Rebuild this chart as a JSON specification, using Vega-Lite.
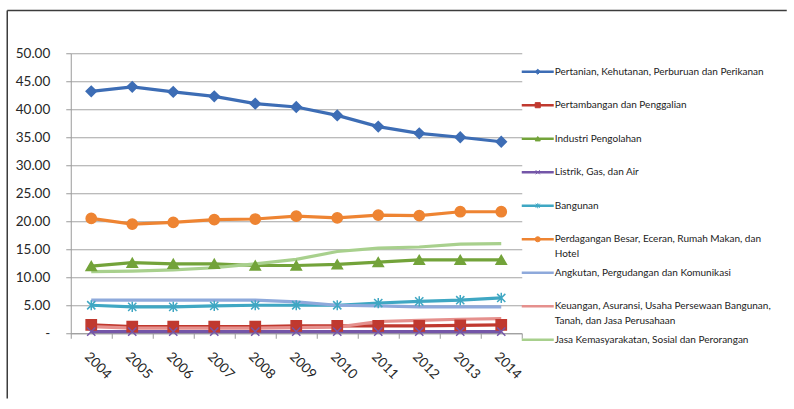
{
  "$schema": "https://vega.github.io/schema/vega-lite/v6.json",
  "background": "white",
  "padding": {"left": 5.75, "top": 9.25, "right": 0, "bottom": 0},
  "config": {
    "view": {"stroke": null},
    "font": "Lato",
    "axis": {
      "labelFont": "Lato",
      "labelFontSize": 13.5,
      "labelColor": "#262626",
      "domainColor": "#9a9a9a",
      "tickColor": "#9a9a9a",
      "title": null
    }
  },
  "datasets": {
    "pdrb": [
      {"year": 2004, "series": "Pertanian", "value": 43.2},
      {"year": 2005, "series": "Pertanian", "value": 44.0},
      {"year": 2006, "series": "Pertanian", "value": 43.1},
      {"year": 2007, "series": "Pertanian", "value": 42.3},
      {"year": 2008, "series": "Pertanian", "value": 41.0},
      {"year": 2009, "series": "Pertanian", "value": 40.4},
      {"year": 2010, "series": "Pertanian", "value": 38.9},
      {"year": 2011, "series": "Pertanian", "value": 36.9},
      {"year": 2012, "series": "Pertanian", "value": 35.7},
      {"year": 2013, "series": "Pertanian", "value": 35.0},
      {"year": 2014, "series": "Pertanian", "value": 34.2},
      {"year": 2004, "series": "Pertambangan", "value": 1.5},
      {"year": 2005, "series": "Pertambangan", "value": 1.2},
      {"year": 2006, "series": "Pertambangan", "value": 1.2},
      {"year": 2007, "series": "Pertambangan", "value": 1.2},
      {"year": 2008, "series": "Pertambangan", "value": 1.2},
      {"year": 2009, "series": "Pertambangan", "value": 1.3},
      {"year": 2010, "series": "Pertambangan", "value": 1.3},
      {"year": 2011, "series": "Pertambangan", "value": 1.3},
      {"year": 2012, "series": "Pertambangan", "value": 1.3},
      {"year": 2013, "series": "Pertambangan", "value": 1.4},
      {"year": 2014, "series": "Pertambangan", "value": 1.5},
      {"year": 2004, "series": "Industri", "value": 12.0},
      {"year": 2005, "series": "Industri", "value": 12.6},
      {"year": 2006, "series": "Industri", "value": 12.4},
      {"year": 2007, "series": "Industri", "value": 12.4},
      {"year": 2008, "series": "Industri", "value": 12.1},
      {"year": 2009, "series": "Industri", "value": 12.1},
      {"year": 2010, "series": "Industri", "value": 12.3},
      {"year": 2011, "series": "Industri", "value": 12.7},
      {"year": 2012, "series": "Industri", "value": 13.1},
      {"year": 2013, "series": "Industri", "value": 13.1},
      {"year": 2014, "series": "Industri", "value": 13.1},
      {"year": 2004, "series": "Listrik", "value": 0.3},
      {"year": 2005, "series": "Listrik", "value": 0.3},
      {"year": 2006, "series": "Listrik", "value": 0.3},
      {"year": 2007, "series": "Listrik", "value": 0.3},
      {"year": 2008, "series": "Listrik", "value": 0.3},
      {"year": 2009, "series": "Listrik", "value": 0.3},
      {"year": 2010, "series": "Listrik", "value": 0.3},
      {"year": 2011, "series": "Listrik", "value": 0.3},
      {"year": 2012, "series": "Listrik", "value": 0.3},
      {"year": 2013, "series": "Listrik", "value": 0.3},
      {"year": 2014, "series": "Listrik", "value": 0.3},
      {"year": 2004, "series": "Bangunan", "value": 5.0},
      {"year": 2005, "series": "Bangunan", "value": 4.7},
      {"year": 2006, "series": "Bangunan", "value": 4.7},
      {"year": 2007, "series": "Bangunan", "value": 4.9},
      {"year": 2008, "series": "Bangunan", "value": 5.0},
      {"year": 2009, "series": "Bangunan", "value": 5.0},
      {"year": 2010, "series": "Bangunan", "value": 5.0},
      {"year": 2011, "series": "Bangunan", "value": 5.4},
      {"year": 2012, "series": "Bangunan", "value": 5.7},
      {"year": 2013, "series": "Bangunan", "value": 5.9},
      {"year": 2014, "series": "Bangunan", "value": 6.3},
      {"year": 2004, "series": "Perdagangan", "value": 20.5},
      {"year": 2005, "series": "Perdagangan", "value": 19.5},
      {"year": 2006, "series": "Perdagangan", "value": 19.8},
      {"year": 2007, "series": "Perdagangan", "value": 20.3},
      {"year": 2008, "series": "Perdagangan", "value": 20.4},
      {"year": 2009, "series": "Perdagangan", "value": 20.9},
      {"year": 2010, "series": "Perdagangan", "value": 20.6},
      {"year": 2011, "series": "Perdagangan", "value": 21.1},
      {"year": 2012, "series": "Perdagangan", "value": 21.0},
      {"year": 2013, "series": "Perdagangan", "value": 21.7},
      {"year": 2014, "series": "Perdagangan", "value": 21.7},
      {"year": 2004, "series": "Angkutan", "value": 5.9},
      {"year": 2005, "series": "Angkutan", "value": 5.9},
      {"year": 2006, "series": "Angkutan", "value": 5.9},
      {"year": 2007, "series": "Angkutan", "value": 5.9},
      {"year": 2008, "series": "Angkutan", "value": 5.9},
      {"year": 2009, "series": "Angkutan", "value": 5.6},
      {"year": 2010, "series": "Angkutan", "value": 5.0},
      {"year": 2011, "series": "Angkutan", "value": 4.9},
      {"year": 2012, "series": "Angkutan", "value": 4.7},
      {"year": 2013, "series": "Angkutan", "value": 4.7},
      {"year": 2014, "series": "Angkutan", "value": 4.7},
      {"year": 2004, "series": "Keuangan", "value": 1.2},
      {"year": 2005, "series": "Keuangan", "value": 0.9},
      {"year": 2006, "series": "Keuangan", "value": 0.9},
      {"year": 2007, "series": "Keuangan", "value": 0.9},
      {"year": 2008, "series": "Keuangan", "value": 0.9},
      {"year": 2009, "series": "Keuangan", "value": 1.0},
      {"year": 2010, "series": "Keuangan", "value": 1.1},
      {"year": 2011, "series": "Keuangan", "value": 2.1},
      {"year": 2012, "series": "Keuangan", "value": 2.3},
      {"year": 2013, "series": "Keuangan", "value": 2.5},
      {"year": 2014, "series": "Keuangan", "value": 2.6},
      {"year": 2004, "series": "Jasa", "value": 11.0},
      {"year": 2005, "series": "Jasa", "value": 11.1},
      {"year": 2006, "series": "Jasa", "value": 11.3},
      {"year": 2007, "series": "Jasa", "value": 11.7},
      {"year": 2008, "series": "Jasa", "value": 12.4},
      {"year": 2009, "series": "Jasa", "value": 13.2},
      {"year": 2010, "series": "Jasa", "value": 14.6},
      {"year": 2011, "series": "Jasa", "value": 15.2},
      {"year": 2012, "series": "Jasa", "value": 15.4},
      {"year": 2013, "series": "Jasa", "value": 15.9},
      {"year": 2014, "series": "Jasa", "value": 16.0}
    ],
    "sektor": [
      {"series": "Pertanian", "label": "Pertanian, Kehutanan, Perburuan dan Perikanan"},
      {"series": "Pertambangan", "label": "Pertambangan dan Penggalian"},
      {"series": "Industri", "label": "Industri Pengolahan"},
      {"series": "Listrik", "label": "Listrik, Gas, dan Air"},
      {"series": "Bangunan", "label": "Bangunan"},
      {"series": "Perdagangan", "label": "Perdagangan Besar, Eceran, Rumah Makan, dan\nHotel"},
      {"series": "Angkutan", "label": "Angkutan, Pergudangan dan Komunikasi"},
      {"series": "Keuangan", "label": "Keuangan, Asuransi, Usaha Persewaan Bangunan,\nTanah, dan Jasa Perusahaan"},
      {"series": "Jasa", "label": "Jasa Kemasyarakatan, Sosial dan Perorangan"}
    ]
  },
  "spacing": 0,
  "bounds": "flush",
  "hconcat": [
    {
      "width": 451,
      "height": 280,
      "resolve": {"scale": {"x": "independent", "y": "independent"}},
      "layer": [
        {
          "data": {"values": [{}]},
          "layer": [
            {
              "mark": {"type": "rule", "stroke": "#3c3c3c", "strokeWidth": 1.5, "clip": false},
              "encoding": {
                "x": {"datum": -0.1408, "type": "quantitative", "scale": {"domain": [0, 1]}, "axis": null},
                "x2": {"datum": 1.5876},
                "y": {"datum": 1.1525, "type": "quantitative", "scale": {"domain": [0, 1]}, "axis": null}
              }
            },
            {
              "mark": {"type": "rule", "stroke": "#3c3c3c", "strokeWidth": 1.5, "clip": false},
              "encoding": {
                "x": {"datum": -0.1408, "type": "quantitative", "axis": null},
                "y": {"datum": 1.1525, "type": "quantitative", "axis": null},
                "y2": {"datum": -0.2332}
              }
            }
          ]
        },
        {
          "data": {"name": "pdrb"},
          "encoding": {
            "x": {
              "field": "year",
              "type": "ordinal",
              "scale": {"type": "band", "paddingInner": 0, "paddingOuter": 0},
              "axis": {
                "labelAngle": 45,
                "tickBand": "extent",
                "tickSize": 5,
                "labelPadding": 11,
                "grid": false,
                "title": null
              }
            },
            "y": {
              "field": "value",
              "type": "quantitative",
              "scale": {"domain": [0, 50], "nice": false},
              "axis": {
                "values": [0, 5, 10, 15, 20, 25, 30, 35, 40, 45, 50],
                "grid": true,
                "gridColor": "#a4a4a4",
                "gridWidth": 1.2,
                "tickSize": 5,
                "labelPadding": 16,
                "labelExpr": "datum.value == 0 ? '-\u00a0\u00a0\u00a0' : format(datum.value, '.2f')",
                "title": null
              }
            }
          },
          "layer": [
            {
              "mark": {"type": "line", "strokeWidth": 3.2},
              "encoding": {
                "color": {
                  "field": "series",
                  "type": "nominal",
                  "scale": {
                    "domain": ["Pertanian", "Pertambangan", "Industri", "Listrik", "Bangunan", "Perdagangan", "Angkutan", "Keuangan", "Jasa"],
                    "range": ["#3d6db5", "#c0392f", "#73a33a", "#7456a8", "#3fa7c3", "#ee8432", "#8ea9db", "#e5908d", "#a8d08d"]
                  },
                  "legend": null
                }
              }
            },
            {
              "mark": {"type": "point", "filled": true, "size": 105, "strokeWidth": 1.5, "opacity": 1},
              "encoding": {
                "color": {"field": "series", "type": "nominal", "legend": null},
                "stroke": {
                  "field": "series",
                  "type": "nominal",
                  "scale": {
                    "domain": ["Pertanian", "Pertambangan", "Industri", "Listrik", "Bangunan", "Perdagangan", "Angkutan", "Keuangan", "Jasa"],
                    "range": ["#3d6db5", "#c0392f", "#73a33a", "#7456a8", "#3fa7c3", "#ee8432", "#8ea9db", "#e5908d", "#a8d08d"]
                  },
                  "legend": null
                },
                "shape": {
                  "field": "series",
                  "type": "nominal",
                  "scale": {
                    "domain": ["Pertanian", "Pertambangan", "Industri", "Listrik", "Bangunan", "Perdagangan", "Angkutan", "Keuangan", "Jasa"],
                    "range": ["diamond", "square", "triangle-up", "M-0.8,-0.8L0.8,0.8M-0.8,0.8L0.8,-0.8", "M-0.8,-0.8L0.8,0.8M-0.8,0.8L0.8,-0.8M0,-1L0,1", "circle", "M0,0", "M0,0", "M0,0"]
                  },
                  "legend": null
                }
              }
            }
          ]
        }
      ]
    },
    {
      "width": 256,
      "height": 305,
      "data": {"name": "sektor"},
      "encoding": {
        "y": {"field": "series", "type": "nominal", "sort": null, "scale": {"type": "point", "padding": 0.55}, "axis": null}
      },
      "layer": [
        {
          "mark": {"type": "rule", "strokeWidth": 2.5},
          "encoding": {
            "x": {"datum": 0, "type": "quantitative", "scale": {"domain": [0, 1]}, "axis": null},
            "x2": {"datum": 0.125},
            "color": {"field": "series", "type": "nominal", "legend": null}
          }
        },
        {
          "mark": {"type": "point", "filled": true, "size": 26, "strokeWidth": 1, "opacity": 1},
          "encoding": {
            "x": {"datum": 0.0625, "type": "quantitative"},
            "color": {"field": "series", "type": "nominal", "legend": null},
            "stroke": {"field": "series", "type": "nominal", "legend": null},
            "shape": {"field": "series", "type": "nominal", "legend": null}
          }
        },
        {
          "mark": {"type": "text", "align": "left", "baseline": "top", "dx": 1, "dy": -5, "fontSize": 10, "lineHeight": 15, "lineBreak": "\n", "color": "#222", "font": "Lato"},
          "encoding": {
            "x": {"datum": 0.125, "type": "quantitative"},
            "text": {"field": "label"}
          }
        }
      ]
    }
  ]
}
